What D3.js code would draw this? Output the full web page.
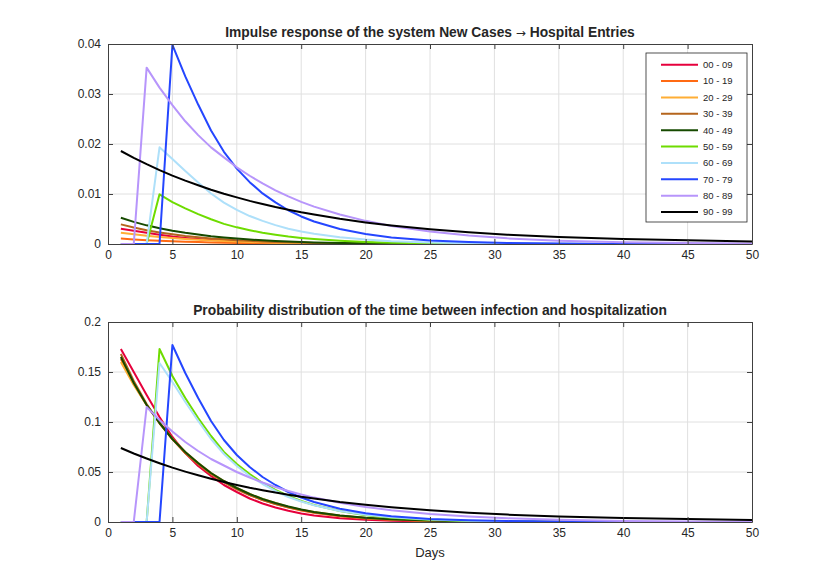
<!DOCTYPE html>
<html>
<head>
<meta charset="utf-8">
<script src="https://cdn.jsdelivr.net/npm/d3@7"></script>
<style>
body { margin: 0; background: #fff; }
text { font-family: "Liberation Sans", Arial, Helvetica, sans-serif; fill: #262626; }
</style>
</head>
<body>
<div id="chart"></div>
<script>
// days sampled from the figure
var days = [1,2,3,4,5,6,7,8,9,10,11,12,13,14,15,16,18,20,22,25,28,31,35,40,45,50];

var groups = ["00 - 09","10 - 19","20 - 29","30 - 39","40 - 49","50 - 59","60 - 69","70 - 79","80 - 89","90 - 99"];
var colors = ["#e6003c","#ff6a13","#ffae35","#b5651d","#164a00","#6edc00","#aee0fa","#2446ff","#b795fb","#000000"];

var xTicks = [0,5,10,15,20,25,30,35,40,45,50];
var yTicksTop = [0,0.01,0.02,0.03,0.04];
var yTicksBottom = [0,0.05,0.1,0.15,0.2];

//impulse response New Cases -> Hospital Entries
var resp_00_09 = [0.00306,0.00266,0.00225,0.00186,0.0015,0.00122,0.00099,0.00081,0.00065,0.00053,0.00042,0.00033,0.00026,0.0002,0.00015,0.00012,0.00007,0.00004,0.00002,0.00001,0,0,0,0,0,0];
var resp_10_19 = [0.00108,0.00091,0.00077,0.00065,0.00055,0.00046,0.00038,0.00032,0.00026,0.00022,0.00018,0.00015,0.00012,0.0001,0.00008,0.00006,0.00004,0.00002,0.00002,0.00001,0,0,0,0,0,0];
var resp_20_29 = [0.00227,0.00195,0.00166,0.00141,0.00118,0.00099,0.00084,0.0007,0.00058,0.00048,0.0004,0.00033,0.00027,0.00022,0.00017,0.00014,0.00009,0.00006,0.00004,0.00002,0.00001,0,0,0,0,0];
var resp_30_39 = [0.00393,0.0033,0.00276,0.00232,0.00194,0.00161,0.00136,0.00112,0.00094,0.00077,0.00063,0.00051,0.00042,0.00035,0.00028,0.00022,0.00015,0.00009,0.00006,0.00003,0.00001,0.00001,0,0,0,0];
var resp_40_49 = [0.00526,0.00443,0.00373,0.00316,0.00265,0.00223,0.00188,0.00156,0.00131,0.00108,0.00089,0.00073,0.00061,0.00049,0.0004,0.00032,0.00021,0.00014,0.00009,0.00004,0.00002,0.00001,0.00001,0,0,0];
var resp_50_59 = [0,0,0,0.00993,0.00838,0.00712,0.00597,0.00494,0.00402,0.00333,0.00276,0.00224,0.00184,0.00149,0.00121,0.00098,0.00063,0.00039,0.00025,0.00013,0.00006,0.00003,0.00001,0.00001,0,0];
var resp_60_69 = [0,0,0,0.01933,0.01702,0.01459,0.01228,0.01009,0.00827,0.00681,0.00559,0.00462,0.00377,0.00304,0.00249,0.00203,0.00134,0.00088,0.00057,0.0003,0.00016,0.00009,0.00004,0.00001,0,0];
var resp_70_79 = [0,0,0,0,0.03981,0.03351,0.02789,0.02271,0.01844,0.01507,0.01237,0.01012,0.00832,0.00675,0.00551,0.0045,0.00299,0.00198,0.0013,0.0007,0.00038,0.0002,0.00009,0.00002,0,0];
var resp_80_89 = [0,0,0.03527,0.03128,0.02776,0.02454,0.02178,0.01932,0.01733,0.01534,0.01365,0.01211,0.01073,0.00951,0.00843,0.00748,0.00589,0.00463,0.00362,0.00248,0.00169,0.00113,0.00067,0.00034,0.00018,0.00009];
var resp_90_99 = [0.0186,0.01722,0.01596,0.01478,0.01368,0.01267,0.01174,0.01086,0.01006,0.00933,0.00862,0.00799,0.00739,0.00686,0.00634,0.00588,0.00503,0.00432,0.0037,0.00294,0.00234,0.00186,0.00138,0.00101,0.00073,0.0005];

//probability distribution infection -> hospitalization
var dist_00_09 = [0.173,0.150,0.127,0.105,0.085,0.069,0.056,0.046,0.037,0.030,0.0235,0.0185,0.0145,0.0112,0.0085,0.0065,0.0038,0.0022,0.0012,0.0005,0.0002,0.0001,0,0,0,0];
var dist_10_19 = [0.163,0.138,0.117,0.099,0.083,0.069,0.058,0.048,0.040,0.033,0.027,0.022,0.018,0.0145,0.0115,0.0092,0.0058,0.0036,0.0023,0.0011,0.0005,0.0002,0.0001,0,0,0];
var dist_20_29 = [0.160,0.137,0.117,0.099,0.083,0.070,0.059,0.049,0.041,0.034,0.028,0.023,0.019,0.0153,0.0123,0.0099,0.0064,0.0041,0.0027,0.0013,0.0006,0.0003,0.0001,0,0,0];
var dist_30_39 = [0.168,0.141,0.118,0.099,0.083,0.069,0.058,0.048,0.040,0.033,0.027,0.022,0.018,0.0148,0.012,0.0096,0.0062,0.004,0.0026,0.0013,0.0006,0.0003,0.0001,0,0,0];
var dist_40_49 = [0.165,0.139,0.117,0.099,0.083,0.070,0.059,0.049,0.041,0.034,0.028,0.023,0.019,0.0155,0.0125,0.010,0.0066,0.0043,0.0028,0.0014,0.0007,0.0004,0.0002,0.0001,0,0];
var dist_50_59 = [0,0,0,0.173,0.146,0.124,0.104,0.086,0.070,0.058,0.048,0.039,0.032,0.026,0.021,0.017,0.011,0.0068,0.0043,0.0022,0.0011,0.0006,0.0002,0.0001,0,0];
var dist_60_69 = [0,0,0,0.159,0.140,0.120,0.101,0.083,0.068,0.056,0.046,0.038,0.031,0.025,0.0205,0.0167,0.011,0.0072,0.0047,0.0025,0.0013,0.0007,0.0003,0.0001,0,0];
var dist_70_79 = [0,0,0,0,0.177,0.149,0.124,0.101,0.082,0.067,0.055,0.045,0.037,0.030,0.0245,0.020,0.0133,0.0088,0.0058,0.0031,0.0017,0.0009,0.0004,0.0001,0,0];
var dist_80_89 = [0,0,0.115,0.102,0.0905,0.080,0.071,0.063,0.0565,0.050,0.0445,0.0395,0.035,0.031,0.0275,0.0244,0.0192,0.0151,0.0118,0.0081,0.0055,0.0037,0.0022,0.0011,0.0006,0.0003];
var dist_90_99 = [0.074,0.0685,0.0635,0.0588,0.0544,0.0504,0.0467,0.0432,0.040,0.0371,0.0343,0.0318,0.0294,0.0273,0.0252,0.0234,0.020,0.0172,0.0147,0.0117,0.0093,0.0074,0.0055,0.004,0.0029,0.002];

var impulse = [resp_00_09,resp_10_19,resp_20_29,resp_30_39,resp_40_49,resp_50_59,resp_60_69,resp_70_79,resp_80_89,resp_90_99];
var distrib = [dist_00_09,dist_10_19,dist_20_29,dist_30_39,dist_40_49,dist_50_59,dist_60_69,dist_70_79,dist_80_89,dist_90_99];

var width = 830,
    height = 588;

var svg = d3.select("#chart").append("svg")
    .attr("width", width)
    .attr("height", height);

var x = d3.scaleLinear().domain([0, 50]).range([108, 752]);

function fmt(d) {
    return d === 0 ? "0" : String(+d.toFixed(3));
}

//desenha um painel (eixos, grade, curvas)
function drawPanel(yScale, series, yTicks, title) {
    var g = svg.append("g");
    var y0 = yScale.range()[0], y1 = yScale.range()[1];

    //grade
    g.append("g").selectAll("line")
        .data(xTicks.slice(1, -1))
        .enter().append("line")
        .attr("x1", x).attr("x2", x)
        .attr("y1", y0).attr("y2", y1)
        .attr("stroke", "#e0e0e0").attr("stroke-width", 1);
    g.append("g").selectAll("line")
        .data(yTicks.slice(1, -1))
        .enter().append("line")
        .attr("x1", x(0)).attr("x2", x(50))
        .attr("y1", yScale).attr("y2", yScale)
        .attr("stroke", "#e0e0e0").attr("stroke-width", 1);

    //curvas
    var line = d3.line()
        .x(function(d, i) { return x(days[i]); })
        .y(function(d) { return yScale(d); });

    g.append("g").selectAll("path")
        .data(series)
        .enter().append("path")
        .attr("d", line)
        .attr("fill", "none")
        .attr("stroke", function(d, i) { return colors[i]; })
        .attr("stroke-width", 2)
        .attr("stroke-linejoin", "round");

    //eixos
    var axes = [
        g.append("g").attr("transform", "translate(0," + y0 + ")")
            .call(d3.axisBottom(x).tickValues(xTicks).tickSizeInner(-5).tickSizeOuter(0).tickPadding(6).tickFormat(fmt)),
        g.append("g").attr("transform", "translate(0," + y1 + ")")
            .call(d3.axisTop(x).tickValues(xTicks).tickSizeInner(-5).tickSizeOuter(0).tickFormat("")),
        g.append("g").attr("transform", "translate(" + x(0) + ",0)")
            .call(d3.axisLeft(yScale).tickValues(yTicks).tickSizeInner(-5).tickSizeOuter(0).tickPadding(7).tickFormat(fmt)),
        g.append("g").attr("transform", "translate(" + x(50) + ",0)")
            .call(d3.axisRight(yScale).tickValues(yTicks).tickSizeInner(-5).tickSizeOuter(0).tickFormat(""))
    ];
    axes.forEach(function(a) {
        a.selectAll("path, line").attr("stroke", "#404040");
        a.selectAll("text").attr("font-size", 12).attr("fill", "#262626")
            .style("font-family", '"Liberation Sans", Arial, sans-serif');
    });

    var t = svg.append("text")
        .attr("x", (x(0) + x(50)) / 2)
        .attr("y", y1 - 7)
        .attr("text-anchor", "middle")
        .attr("font-size", 13.8)
        .attr("font-weight", "bold")
        .attr("fill", "#000")
        .style("white-space", "pre");
    t.append("tspan").text(title[0]);
    if (title.length > 1) {
        t.append("tspan")
            .style("font-family", '"DejaVu Sans", sans-serif')
            .attr("font-weight", "normal")
            .attr("font-size", 12)
            .text(" \u2192 ");
        t.append("tspan").text(title[1]);
    }
    return g;
}

var yTop = d3.scaleLinear().domain([0, 0.04]).range([244, 44]);
var yBottom = d3.scaleLinear().domain([0, 0.2]).range([522, 322]);

drawPanel(yTop, impulse, yTicksTop, ["Impulse response of the system New Cases", "Hospital Entries"]);
drawPanel(yBottom, distrib, yTicksBottom, ["Probability distribution of the time between infection and hospitalization"]);

svg.append("text")
    .attr("x", (x(0) + x(50)) / 2)
    .attr("y", 557)
    .attr("text-anchor", "middle")
    .attr("font-size", 13)
    .text("Days");

//legenda
var legend = svg.append("g").attr("transform", "translate(646,53)");
legend.append("rect")
    .attr("width", 101)
    .attr("height", 169)
    .attr("fill", "#fff")
    .attr("stroke", "#262626")
    .attr("stroke-width", 0.8);

var item = legend.selectAll(".item")
    .data(groups)
    .enter().append("g")
    .attr("class", "item")
    .attr("transform", function(d, i) { return "translate(0," + (11.7 + i * 16.37) + ")"; });
item.append("line")
    .attr("x1", 15).attr("x2", 52)
    .attr("stroke", function(d, i) { return colors[i]; })
    .attr("stroke-width", 2);
item.append("text")
    .attr("x", 57)
    .attr("dy", "0.35em")
    .attr("font-size", 9.5)
    .text(function(d) { return d; });
</script>
</body>
</html>
